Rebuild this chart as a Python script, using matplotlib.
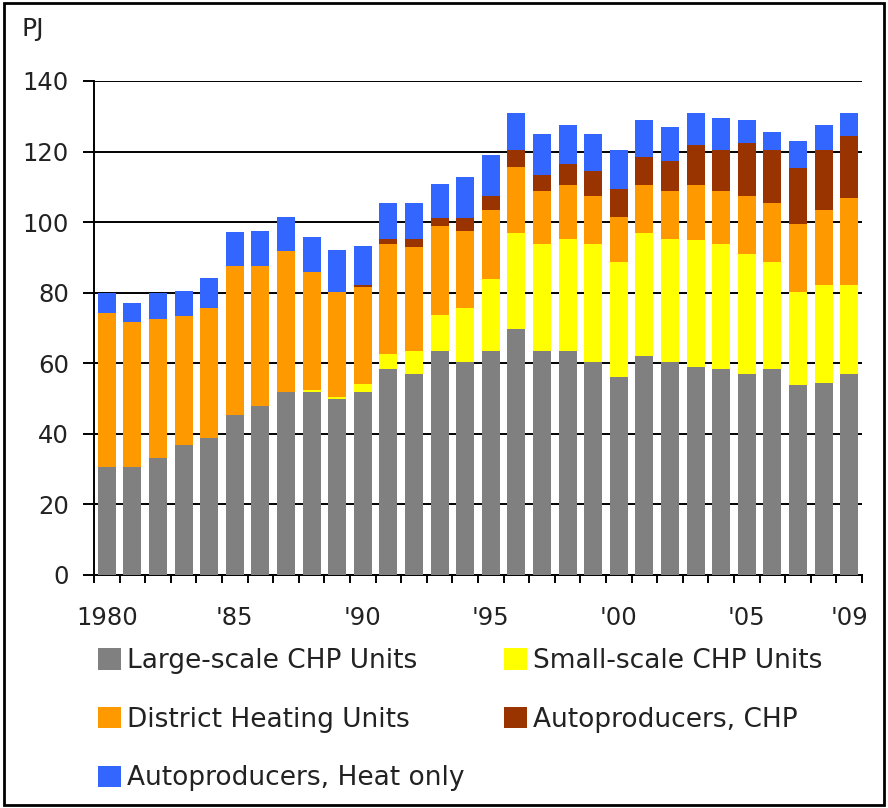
import numpy as np
import matplotlib
matplotlib.use("Agg")
import matplotlib.pyplot as plt
from matplotlib.patches import Rectangle

years = list(range(1980, 2010))
tick_labels = {1980: "1980", 1985: "'85", 1990: "'90", 1995: "'95",
               2000: "'00", 2005: "'05", 2009: "'09"}

# cumulative tops, converted to segment sizes below
large_top = [30.7, 30.7, 33.2, 36.8, 38.7, 45.3, 48.0, 51.9, 51.9, 49.9,
             51.9, 58.4, 57.0, 63.5, 60.5, 63.5, 69.6, 63.5, 63.5, 60.5,
             56.0, 62.1, 60.5, 59.0, 58.5, 57.0, 58.5, 53.9, 54.5, 57.0]
small_top = [30.7, 30.7, 33.2, 36.8, 38.7, 45.3, 48.0, 51.9, 52.4, 50.5,
             54.0, 62.5, 63.6, 73.7, 75.8, 83.8, 96.8, 93.8, 95.3, 93.8,
             88.8, 96.8, 95.3, 94.8, 93.8, 90.9, 88.8, 80.3, 82.3, 82.3]
district_top = [74.2, 71.6, 72.5, 73.5, 75.6, 87.6, 87.6, 91.8, 85.8, 80.1,
                81.7, 93.8, 92.9, 98.9, 97.4, 103.4, 115.5, 108.9, 110.4, 107.4,
                101.4, 110.4, 108.9, 110.4, 108.9, 107.4, 105.3, 99.4, 103.3, 106.9]
autochp_top = [74.2, 71.6, 72.5, 73.5, 75.6, 87.6, 87.6, 91.8, 85.8, 80.1,
               82.2, 95.3, 95.3, 101.3, 101.3, 107.3, 120.4, 113.3, 116.5, 114.5,
               109.4, 118.4, 117.4, 121.9, 120.4, 122.5, 120.4, 115.4, 120.4, 124.5]
heat_top = [79.8, 77.2, 79.8, 80.6, 84.1, 97.2, 97.5, 101.4, 95.8, 92.1,
            93.2, 105.3, 105.3, 110.9, 112.9, 118.9, 131.0, 125.1, 127.6, 125.1,
            120.4, 129.0, 127.0, 131.0, 129.5, 129.0, 125.5, 123.0, 127.6, 131.0]

series = [
    ("Large-scale CHP Units", large_top, "#808080"),
    ("Small-scale CHP Units", small_top, "#FFFF00"),
    ("District Heating Units", district_top, "#FF9900"),
    ("Autoproducers, CHP", autochp_top, "#993300"),
    ("Autoproducers, Heat only", heat_top, "#3366FF"),
]

text_color = "#222222"
plt.rcParams["font.family"] = ["DejaVu Sans"]

fig = plt.figure(figsize=(8.88, 8.08), dpi=100)
ax = fig.add_axes([94 / 888, 1 - 575 / 808, 768 / 888, 494 / 808])

x = np.arange(len(years))
bottom = np.zeros(len(years))
handles = {}
for name, tops, color in series:
    tops = np.array(tops)
    h = ax.bar(x, tops - bottom, 0.7, bottom=bottom, color=color, zorder=3, label=name)
    handles[name] = h
    bottom = tops

ax.set_xlim(-0.5, len(years) - 0.5)
ax.set_ylim(0, 140)
ax.set_yticks(range(0, 141, 20))
ax.yaxis.grid(True, color="black", linewidth=1.4, zorder=0)
ax.set_axisbelow(True)

ax.set_xticks([years.index(y) for y in tick_labels])
ax.set_xticklabels(list(tick_labels.values()))
ax.set_xticks(np.arange(-0.5, len(years)), minor=True)
ax.tick_params(axis="x", which="major", length=0, pad=22, labelsize=17.5, labelcolor=text_color)
ax.tick_params(axis="x", which="minor", length=6, width=1.4, direction="out", color="black")
ax.tick_params(axis="y", length=8, width=1.4, color="black", labelsize=17.5,
               labelcolor=text_color, pad=10)

for side in ["top", "right"]:
    ax.spines[side].set_visible(False)
ax.spines["left"].set_linewidth(1.4)
ax.spines["bottom"].set_linewidth(1.4)

fig.text(21 / 888, 1 - 29 / 808, "PJ", fontsize=18, color=text_color, va="center")

order = ["Large-scale CHP Units", "District Heating Units", "Autoproducers, Heat only",
         "Small-scale CHP Units", "Autoproducers, CHP"]
fig.legend([handles[n] for n in order], order, ncol=2, loc="upper left",
           bbox_to_anchor=(98 / 888, 1 - 648 / 808), frameon=False, fontsize=19,
           borderpad=0, borderaxespad=0,
           handlelength=0.87, handleheight=0.87, handletextpad=0.23,
           columnspacing=1.5, labelspacing=1.24, labelcolor=text_color)

fig.patches.append(Rectangle((0.004, 0.004), 0.992, 0.992, transform=fig.transFigure,
                             fill=False, edgecolor="black", linewidth=2))

fig.savefig("out.png", dpi=100)
